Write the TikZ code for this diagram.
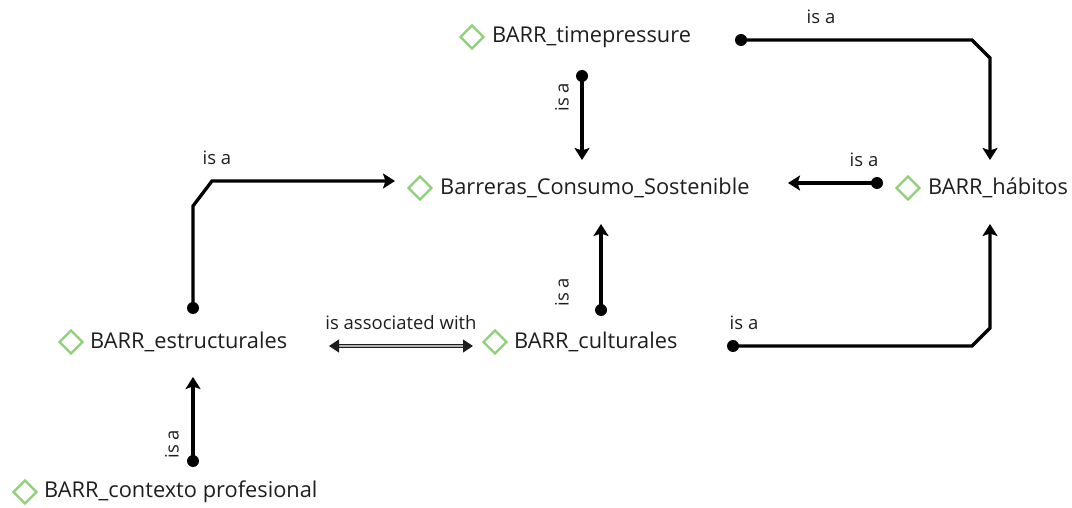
\documentclass[tikz,border=0pt]{standalone}
\usepackage{fontspec}
\setmainfont{Open Sans}
\usetikzlibrary{arrows.meta,shapes.geometric}
\definecolor{ink}{HTML}{1E1E1E}
\definecolor{leaf}{HTML}{8FD17A}
\begin{document}
\begin{tikzpicture}[x=1pt,y=-1pt,
  concept/.style={anchor=west,inner sep=0pt,text=ink,font=\fontsize{21.8}{24}\selectfont},
  icon/.style={diamond,draw=leaf,line width=2.2pt,minimum size=24pt,inner sep=0pt},
  rel/.style={line width=3.3pt,-{Stealth[width=15pt,length=12pt,inset=2.5pt]}},
  tag/.style={text=ink,font=\fontsize{18.5}{21}\selectfont,inner sep=0pt},
  pin/.style={circle,fill=black,inner sep=0pt,minimum size=12pt}]
\useasboundingbox (0,0) rectangle (1072,508);

% concepts: diamond icon followed by the name
\node[icon] (tpI) at (472,37) {};
\node[concept] (tp) at (492,37) {BARR\_timepressure};
\node[icon] (bcI) at (420,188) {};
\node[concept] (bc) at (440,188) {Barreras\_Consumo\_Sostenible};
\node[icon] (hbI) at (908,188) {};
\node[concept] (hb) at (928,188) {BARR\_hábitos};
\node[icon] (esI) at (71,342) {};
\node[concept] (es) at (90,342) {BARR\_estructurales};
\node[icon] (cuI) at (495,342) {};
\node[concept] (cu) at (514,342) {BARR\_culturales};
\node[icon] (cpI) at (25,492) {};
\node[concept] (cp) at (44,492) {BARR\_contexto profesional};

% connector end points
\coordinate (tpA) at (582,76);   \coordinate (bcT) at (582,160);
\coordinate (tpB) at (741,40);   \coordinate (hbT) at (990,160);
\coordinate (hbA) at (877,183);  \coordinate (bcR) at (788,183);
\coordinate (esA) at (193,308);  \coordinate (bcL) at (395,181);
\coordinate (cuA) at (601,310);  \coordinate (bcB) at (601,224);
\coordinate (cuB) at (733,346);  \coordinate (hbB) at (990,224);
\coordinate (esR) at (329,346);  \coordinate (cuL) at (473,346);
\coordinate (cpA) at (193,461);  \coordinate (esB) at (193,377);

% is-a relations
\draw[rel] (tpA) -- (bcT);
\node[pin] at (tpA) {};
\node[tag,rotate=90] (l1) at (562,97) {is a};

\draw[rel] (tpB) -- (972,40) -- (990,58) -- (hbT);
\node[pin] at (tpB) {};
\node[tag] (l2) at (821,17) {is a};

\draw[rel] (hbA) -- (bcR);
\node[pin] at (hbA) {};
\node[tag] (l3) at (864,160) {is a};

\draw[rel] (esA) -- (193,206) -- (212,181) -- (bcL);
\node[pin] at (esA) {};
\node[tag] (l4) at (217,158) {is a};

\draw[rel] (cuA) -- (bcB);
\node[pin] at (cuA) {};
\node[tag,rotate=90] (l5) at (562,292) {is a};

\draw[rel] (cuB) -- (972,346) -- (990,328) -- (hbB);
\node[pin] at (cuB) {};
\node[tag] (l6) at (744,323) {is a};

\draw[rel] (cpA) -- (esB);
\node[pin] at (cpA) {};
\node[tag,rotate=90] (l7) at (172,444) {is a};

% association
\draw[line width=1.2pt,draw=ink,double=gray!60,double distance=1.8pt,
      {Triangle[width=13pt,length=10pt]}-{Triangle[width=13pt,length=10pt]}] (esR) -- (cuL);
\node[tag] (l8) at (401,323) {is associated with};
\end{tikzpicture}
\end{document}
